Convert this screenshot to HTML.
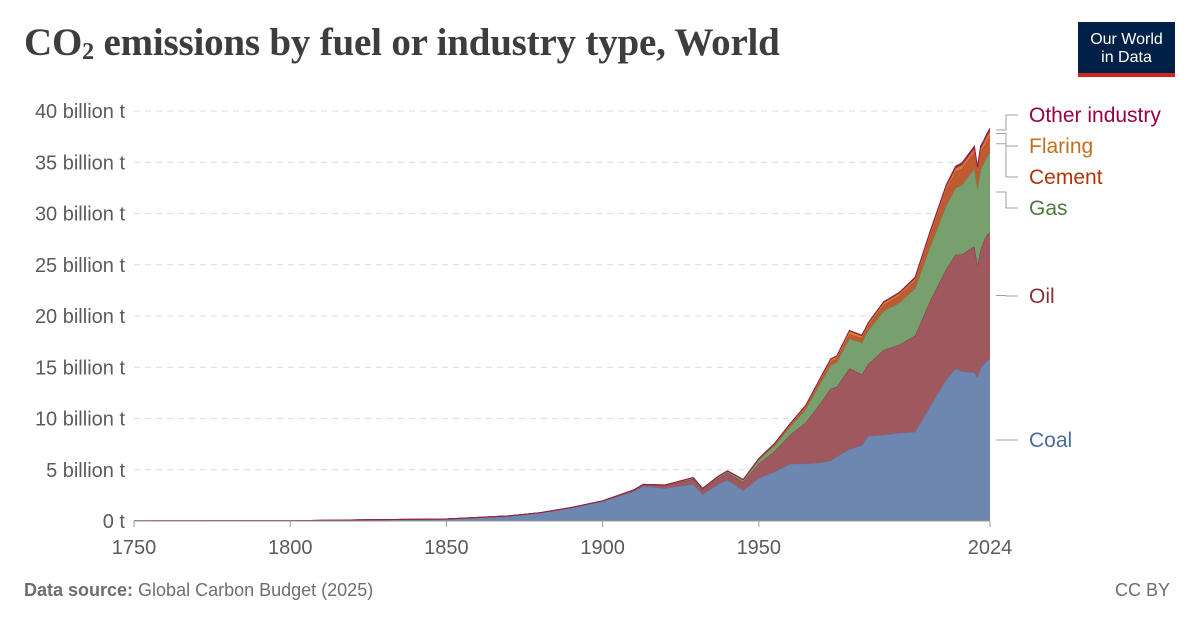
<!DOCTYPE html>
<html><head><meta charset="utf-8">
<style>
body{margin:0;background:#fff;font-family:"Liberation Sans",sans-serif;}
#wrap{position:relative;width:1200px;height:627px;overflow:hidden;}
h1{position:absolute;left:24px;top:20px;margin:0;font-family:"Liberation Serif",serif;font-weight:bold;font-size:39px;color:#3d3d3d;letter-spacing:-0.2px;}
#logo{position:absolute;left:1078px;top:22px;width:97px;height:55px;background:#002147;color:#fff;font-size:16px;line-height:18px;text-align:center;box-sizing:border-box;padding-top:9px;}
#logo:after{content:"";position:absolute;left:0;right:0;bottom:0;height:4px;background:#ce261e;}
.foot{position:absolute;top:580px;font-size:18px;color:#6e6e6e;}
</style></head><body>
<div id="wrap">
<h1>CO<sub style="font-size:24px;vertical-align:-4px">2</sub> emissions by fuel or industry type, World</h1>
<div id="logo">Our World<br>in Data</div>
<svg id="chart" width="1200" height="627" style="position:absolute;left:0;top:0"></svg>
<div class="foot" style="left:24px"><b>Data source:</b> Global Carbon Budget (2025)</div>
<div class="foot" style="right:30px">CC BY</div>
</div>
<script>
const years=[1750,1800,1850,1870,1880,1890,1900,1910,1913,1920,1929,1932,1937,1940,1945,1950,1955,1960,1965,1970,1973,1975,1979,1983,1985,1990,1995,2000,2005,2010,2013,2015,2019,2020,2021,2022,2023,2024];
const coal=[0.009,0.03,0.2,0.5,0.8,1.3,1.9,2.9,3.4,3.2,3.6,2.6,3.6,4.0,3.0,4.2,4.8,5.6,5.6,5.7,5.9,6.3,7.0,7.4,8.3,8.4,8.6,8.7,11.3,13.8,14.9,14.6,14.5,14.0,15.0,15.3,15.6,15.8];
const oil=[0,0,0,0,0.01,0.02,0.05,0.1,0.12,0.25,0.5,0.45,0.6,0.7,0.8,1.4,2.0,2.8,4.0,5.9,7.0,6.8,7.9,6.9,7.0,8.3,8.6,9.4,10.3,10.8,11.1,11.4,12.3,11.0,11.5,12.0,12.3,12.4];
const gas=[0,0,0,0,0,0,0.01,0.02,0.03,0.04,0.1,0.1,0.12,0.15,0.2,0.35,0.55,0.8,1.3,2.0,2.3,2.4,2.9,3.1,3.3,3.8,4.1,4.6,5.3,6.2,6.5,6.8,7.6,7.4,7.8,7.6,7.6,7.8];
const cement=[0,0,0,0,0,0,0.01,0.02,0.02,0.02,0.04,0.03,0.04,0.05,0.04,0.08,0.11,0.15,0.2,0.3,0.35,0.35,0.42,0.44,0.45,0.6,0.7,0.75,1.1,1.5,1.6,1.6,1.6,1.6,1.7,1.6,1.6,1.6];
const flaring=[0,0,0,0,0,0,0,0,0,0,0,0,0,0,0,0.05,0.07,0.1,0.13,0.17,0.2,0.2,0.3,0.2,0.2,0.2,0.2,0.2,0.25,0.3,0.3,0.3,0.3,0.3,0.3,0.35,0.4,0.4];
const other=[0,0,0,0,0,0,0,0,0,0,0,0,0,0,0,0.02,0.03,0.04,0.05,0.06,0.07,0.07,0.08,0.08,0.09,0.1,0.11,0.13,0.16,0.2,0.22,0.23,0.27,0.27,0.28,0.29,0.3,0.3];
const yTicks=[0,5,10,15,20,25,30,35,40];
const xTicks=[1750,1800,1850,1900,1950,2024];
const seriesNames=["Coal","Oil","Gas","Cement","Flaring","Other industry"];
const seriesData=[coal,oil,gas,cement,flaring,other];
const fills=["#6d87b0","#a0585f","#78a06e","#c05a33","#d4822f","#a32a5c"];
const strokes=["#5a74a0","#8b3a44","#5f8a55","#b04a25","#c07020","#8e1a4c"];
const labelCols=["#4c6a9c","#883039","#4c7a3c","#b13507","#c0701e","#970046"];
const labelY=[440,296,208,177,146,115];

const NS="http://www.w3.org/2000/svg";
const svg=document.getElementById('chart');
const x0=134,x1=990,y0=521,yTop=111;
const X=y=>x0+(y-1750)/(2024-1750)*(x1-x0);
const Y=v=>y0-v/40*(y0-yTop);
function mk(t,a){const e=document.createElementNS(NS,t);for(const k in a)e.setAttribute(k,a[k]);svg.appendChild(e);return e;}

yTicks.forEach(t=>{
  if(t>0){const l=mk('line',{x1:x0,x2:x1,y1:Y(t),y2:Y(t),stroke:'#dcdcdc','stroke-dasharray':'6,5'});
  
  }
  const tx=mk('text',{x:125,y:Y(t)+7,'text-anchor':'end','font-size':20,fill:'#5b5b5b','font-family':'Liberation Sans'});
  tx.textContent=t===0?'0 t':t+' billion t';
  
  
});

let base=years.map(()=>0);
seriesData.forEach((s,i)=>{
  const top=base.map((b,j)=>b+s[j]);
  let d='M'+years.map((y,j)=>X(y)+','+Y(top[j])).join(' L');
  const upper=d;
  for(let j=years.length-1;j>=0;j--) d+=' L'+X(years[j])+','+Y(base[j]);
  const p=mk('path',{d:d+'Z',fill:fills[i]});
  
  
  const ln=mk('path',{d:upper,fill:'none',stroke:strokes[i],'stroke-width':1});
  
  
  const ty=labelY[i], yEnd=Y((base[base.length-1]+top[top.length-1])/2);
  const c=mk('path',{d:`M996,${yEnd} L1006,${yEnd} L1006,${ty} L1018,${ty}`,fill:'none',stroke:'#a0a0a0','stroke-width':1});
  
  
  const lt=mk('text',{x:1029,y:ty+7,'font-size':21,fill:labelCols[i],'font-family':'Liberation Sans'});
  lt.textContent=seriesNames[i];
  
  
  base=top;
});

const ax=mk('line',{x1:x0,x2:x1,y1:y0,y2:y0,stroke:'#999'});


xTicks.forEach(t=>{
  const tk=mk('line',{x1:X(t),x2:X(t),y1:y0,y2:y0+6,stroke:'#999'});
  
  
  const tx=mk('text',{x:X(t),y:554,'text-anchor':'middle','font-size':20,fill:'#5b5b5b','font-family':'Liberation Sans'});
  tx.textContent=t;
  
  
});
</script>
</body></html>
